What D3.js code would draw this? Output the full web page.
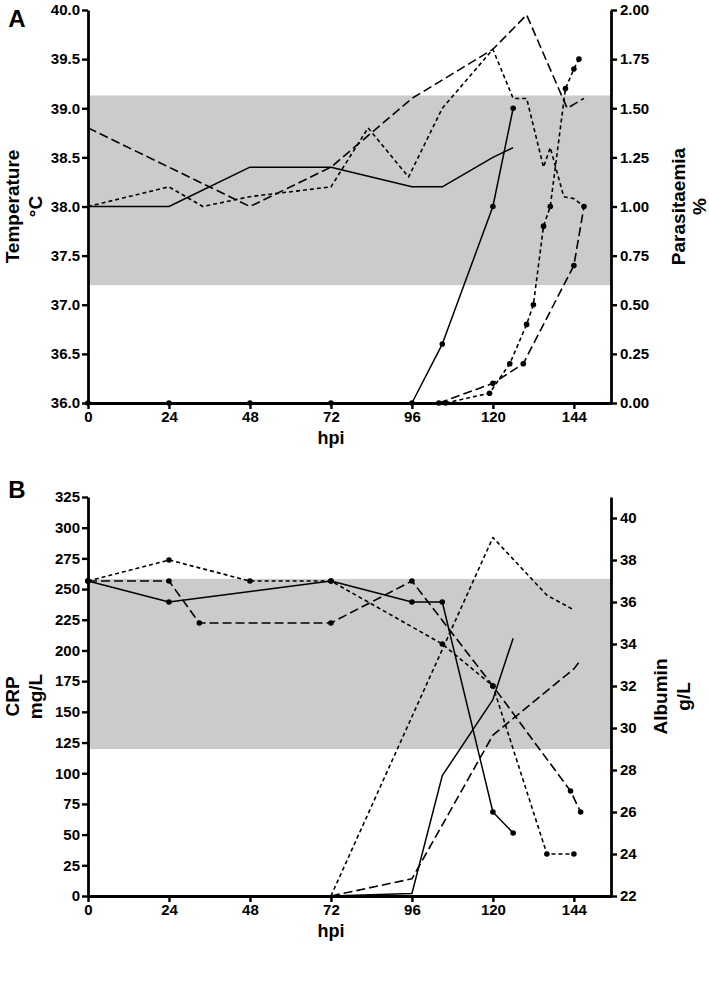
<!DOCTYPE html>
<html>
<head>
<meta charset="utf-8">
<script src="https://cdn.jsdelivr.net/npm/d3@7"></script>
<style>
  body { margin: 0; background: #fff; }
  svg { display: block; }
  text { font-family: "Liberation Sans", Arial, sans-serif; font-weight: bold; fill: #000; }
</style>
</head>
<body>
<svg width="709" height="981"></svg>
<script>
// ---- panel A: temperature (left) and parasitaemia (right), by hpi ----
var hpiTicks = [0, 24, 48, 72, 96, 120, 144];
var tempTicks = [36.0, 36.5, 37.0, 37.5, 38.0, 38.5, 39.0, 39.5, 40.0];
var paraTicks = [0, 0.25, 0.5, 0.75, 1.0, 1.25, 1.5, 1.75, 2.0];
var tempBand = [37.2, 39.13];

var tempSolidHpi = [0, 24, 48, 72, 96, 105, 120, 126];
var tempSolid    = [38.0, 38.0, 38.4, 38.4, 38.2, 38.2, 38.5, 38.6];
var tempLongHpi  = [0, 48, 72, 96, 120, 130, 142, 147];
var tempLong     = [38.8, 38.0, 38.4, 39.1, 39.6, 39.95, 39.0, 39.1];
var tempShortHpi = [0, 24, 34, 48, 72, 83, 95, 105, 120, 126, 130, 135, 137, 141, 144, 147];
var tempShort    = [38.0, 38.2, 38.0, 38.1, 38.2, 38.8, 38.3, 39.0, 39.6, 39.1, 39.1, 38.4, 38.6, 38.1, 38.08, 38.0];

var paraSolidHpi = [0, 24, 48, 72, 96, 105, 120, 126];
var paraSolid    = [0, 0, 0, 0, 0, 0.3, 1.0, 1.5];
var paraShortHpi = [106, 119, 125, 130, 132, 135, 137, 141.5, 144, 145.5];
var paraShort    = [0, 0.05, 0.2, 0.4, 0.5, 0.9, 1.0, 1.6, 1.7, 1.75];
var paraLongHpi  = [104, 120, 129, 144, 147];
var paraLong     = [0, 0.1, 0.2, 0.7, 1.0];

// ---- panel B: CRP (left) and albumin (right), by hpi ----
var crpTicks = d3.range(0, 326, 25);
var albTicks = d3.range(22, 41, 2);
var albBand = [29, 37.1];

var crpSolidHpi = [72, 96, 105, 120, 126];
var crpSolid    = [0, 2, 98, 160, 210];
var crpLongHpi  = [72, 96, 120, 144, 146];
var crpLong     = [0, 14, 131, 185, 192];
var crpShortHpi = [72, 96, 120, 136, 144];
var crpShort    = [0, 146, 292, 245, 233];

var albSolidHpi = [0, 24, 72, 96, 105, 120, 126];
var albSolid    = [37, 36, 37, 36, 36, 26, 25];
var albLongHpi  = [0, 24, 33, 72, 96, 120, 143, 146];
var albLong     = [37, 37, 35, 35, 37, 32, 27, 26];
var albShortHpi = [0, 24, 48, 72, 105, 120, 136, 144];
var albShort    = [37, 38, 37, 37, 34, 32, 24, 24];

var LONG = "9,4", SHORT = "4,3";

var svg = d3.select("svg");

function pairs(xs, ys) {
  return xs.map(function(d, i) { return [d, ys[i]]; });
}

function styleAxis(g) {
  g.select(".domain").attr("stroke", "#000").attr("stroke-width", 2.8);
  g.selectAll(".tick line").attr("stroke", "#000").attr("stroke-width", 2.4);
  g.selectAll(".tick text").style("font-size", "15px").style("font-weight", "bold")
    .style("font-family", "'Liberation Sans', Arial, sans-serif");
}

function drawPanel(o) {
  var x = d3.scaleLinear().domain([0, 155]).range([88, 611]);
  var yl = d3.scaleLinear().domain(o.leftDomain).range([o.bottom, o.top]);
  var yr = d3.scaleLinear().domain(o.rightDomain).range([o.bottom, o.top]);
  var g = svg.append("g");

  // grey reference band
  var by = o.bandOnRight ? yr : yl;
  g.append("rect")
    .attr("x", x(0)).attr("width", x(155) - x(0))
    .attr("y", by(o.band[1])).attr("height", by(o.band[0]) - by(o.band[1]))
    .attr("fill", "#cbcbcb");

  // lines
  o.series.forEach(function(s) {
    var ys = s.right ? yr : yl;
    var line = d3.line().x(function(d) { return x(d[0]); }).y(function(d) { return ys(d[1]); });
    var pts = pairs(s.hpi, s.vals);
    g.append("path")
      .datum(pts)
      .attr("fill", "none")
      .attr("stroke", "#000")
      .attr("stroke-width", s.dash ? 1.6 : 1.5)
      .attr("stroke-dasharray", s.dash)
      .attr("stroke-linejoin", "round")
      .attr("d", line);
    if (s.dots) {
      g.selectAll(null).data(pts).enter().append("circle")
        .attr("cx", function(d) { return x(d[0]); })
        .attr("cy", function(d) { return ys(d[1]); })
        .attr("r", 2.8)
        .attr("fill", "#000");
    }
  });

  // axes
  g.append("g").attr("transform", "translate(" + x(0) + ",0)")
    .call(d3.axisLeft(yl).tickValues(o.leftTicks).tickFormat(o.leftFormat).tickSize(6).tickSizeOuter(0).tickPadding(2))
    .call(styleAxis);
  g.append("g").attr("transform", "translate(" + x(155) + ",0)")
    .call(d3.axisRight(yr).tickValues(o.rightTicks).tickFormat(o.rightFormat).tickSize(6).tickSizeOuter(0).tickPadding(3))
    .call(styleAxis);
  g.append("g").attr("transform", "translate(0," + o.bottom + ")")
    .call(d3.axisBottom(x).tickValues(hpiTicks).tickFormat(d3.format("d")).tickSize(6).tickSizeOuter(0).tickPadding(2))
    .call(styleAxis);

  g.append("text").attr("x", x(72)).attr("y", o.bottom + 41)
    .attr("text-anchor", "middle").style("font-size", "18px").text("hpi");

  g.append("text").attr("x", 17).attr("y", o.letterY)
    .attr("text-anchor", "middle").style("font-size", "24px").text(o.letter);

  var mid = (o.top + o.bottom) / 2;
  function vlabel(lines, xs) {
    lines.forEach(function(t, i) {
      g.append("text")
        .attr("transform", "translate(" + xs[i] + "," + mid + ") rotate(-90)")
        .attr("text-anchor", "middle").attr("dy", "0.35em")
        .style("font-size", "19px").text(t);
    });
  }
  vlabel(o.leftTitle, o.leftTitleX);
  vlabel(o.rightTitle, o.rightTitleX);
}

drawPanel({
  top: 10, bottom: 403, letter: "A", letterY: 27,
  leftDomain: [36, 40], rightDomain: [0, 2],
  leftTicks: tempTicks, rightTicks: paraTicks,
  leftFormat: d3.format(".1f"), rightFormat: d3.format(".2f"),
  band: tempBand, bandOnRight: false,
  leftTitle: ["Temperature", "°C"], leftTitleX: [12, 35],
  rightTitle: ["Parasitaemia", "%"], rightTitleX: [678, 699],
  series: [
    { hpi: tempSolidHpi, vals: tempSolid, dash: null },
    { hpi: tempLongHpi, vals: tempLong, dash: LONG },
    { hpi: tempShortHpi, vals: tempShort, dash: SHORT },
    { hpi: paraSolidHpi, vals: paraSolid, dash: null, right: true, dots: true },
    { hpi: paraShortHpi, vals: paraShort, dash: SHORT, right: true, dots: true },
    { hpi: paraLongHpi, vals: paraLong, dash: LONG, right: true, dots: true }
  ]
});

drawPanel({
  top: 497, bottom: 896, letter: "B", letterY: 498,
  leftDomain: [0, 325], rightDomain: [22, 41],
  leftTicks: crpTicks, rightTicks: albTicks,
  leftFormat: d3.format("d"), rightFormat: d3.format("d"),
  band: albBand, bandOnRight: true,
  leftTitle: ["CRP", "mg/L"], leftTitleX: [12, 35],
  rightTitle: ["Albumin", "g/L"], rightTitleX: [660, 683],
  series: [
    { hpi: crpSolidHpi, vals: crpSolid, dash: null },
    { hpi: crpLongHpi, vals: crpLong, dash: LONG },
    { hpi: crpShortHpi, vals: crpShort, dash: SHORT },
    { hpi: albSolidHpi, vals: albSolid, dash: null, right: true, dots: true },
    { hpi: albLongHpi, vals: albLong, dash: LONG, right: true, dots: true },
    { hpi: albShortHpi, vals: albShort, dash: SHORT, right: true, dots: true }
  ]
});
</script>
</body>
</html>
